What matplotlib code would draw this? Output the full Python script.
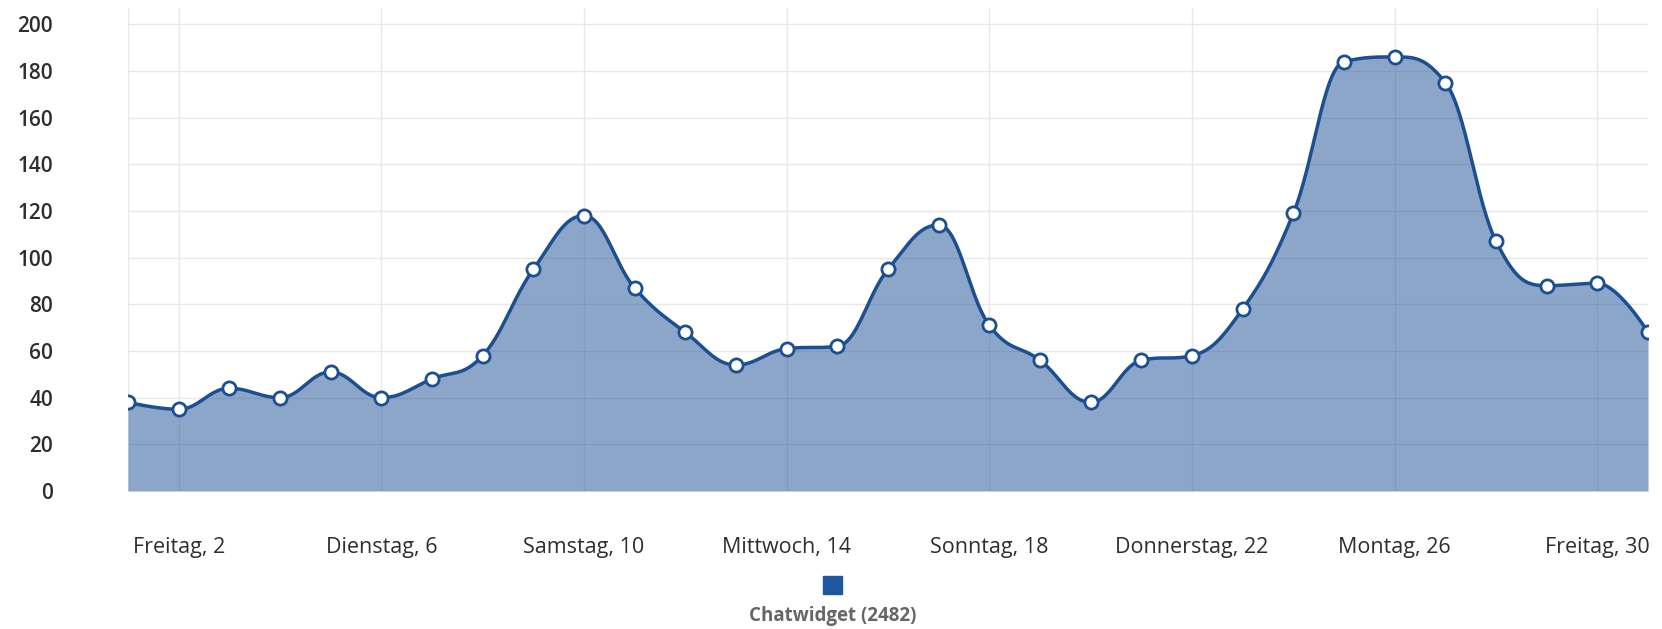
import numpy as np
import matplotlib.pyplot as plt

# Chatwidget pro Tag (Tag 1..31)
days = np.arange(1, 32)
values = [38, 35, 44, 40, 51, 40, 48, 58, 95, 118,
          87, 68, 54, 61, 62, 95, 114, 71, 56, 38,
          56, 58, 78, 119, 184, 186, 175, 107, 88, 89, 68]
tick_days = [2, 6, 10, 14, 18, 22, 26, 30]
tick_labels = ["Freitag, 2", "Dienstag, 6", "Samstag, 10", "Mittwoch, 14",
               "Sonntag, 18", "Donnerstag, 22", "Montag, 26", "Freitag, 30"]
series_name = "Chatwidget (2482)"

line_col = "#1c4f91"
fill_col = "#1a4f96"
text_col = "#2e2e2e"


def spline(xs, ys, n=30, smoothing=1.5):
    # highcharts-artige Bezier-Glaettung
    xs = np.asarray(xs, float)
    ys = np.asarray(ys, float)
    m = len(xs)
    lc = [None] * m
    rc = [None] * m
    for i in range(m):
        x, y = xs[i], ys[i]
        if i == 0 or i == m - 1:
            lc[i] = (x, y)
            rc[i] = (x, y)
            continue
        lx, ly = xs[i - 1], ys[i - 1]
        nx, ny = xs[i + 1], ys[i + 1]
        d = smoothing + 1
        lcx = (smoothing * x + lx) / d
        lcy = (smoothing * y + ly) / d
        rcx = (smoothing * x + nx) / d
        rcy = (smoothing * y + ny) / d
        if rcx != lcx:
            corr = (rcy - lcy) * (rcx - x) / (rcx - lcx) + y - rcy
            lcy += corr
            rcy += corr
        if lcy > ly and lcy > y:
            lcy = max(ly, y)
            rcy = 2 * y - lcy
        elif lcy < ly and lcy < y:
            lcy = min(ly, y)
            rcy = 2 * y - lcy
        if rcy > ny and rcy > y:
            rcy = max(ny, y)
            lcy = 2 * y - rcy
        elif rcy < ny and rcy < y:
            rcy = min(ny, y)
            lcy = 2 * y - rcy
        lc[i] = (lcx, lcy)
        rc[i] = (rcx, rcy)
    px, py = [], []
    t = np.linspace(0, 1, n)
    for i in range(m - 1):
        p0 = np.array([xs[i], ys[i]])
        p1 = np.array(rc[i])
        p2 = np.array(lc[i + 1])
        p3 = np.array([xs[i + 1], ys[i + 1]])
        b = ((1 - t) ** 3)[:, None] * p0 + (3 * (1 - t) ** 2 * t)[:, None] * p1 \
            + (3 * (1 - t) * t ** 2)[:, None] * p2 + (t ** 3)[:, None] * p3
        px.extend(b[:, 0])
        py.extend(b[:, 1])
    return np.array(px), np.array(py)


plt.rcParams['font.family'] = ['Open Sans', 'DejaVu Sans']

fig = plt.figure(figsize=(16.62, 6.29), dpi=100)
ax = fig.add_axes([0.077, 0.2194, 0.9146, 0.768])

sx, sy = spline(days, values)
ax.fill_between(sx, 0, sy, color=fill_col, alpha=0.5, lw=0, zorder=1)
ax.plot(sx, sy, color=line_col, lw=2.5, zorder=3)
ax.plot(days, values, 'o', ms=9.5, mfc='white', mec=line_col, mew=2.0, zorder=4)

ax.set_xlim(1, 31)
ax.set_ylim(0, 207)
ax.set_yticks(np.arange(0, 201, 20))
ax.set_xticks([1] + tick_days)
ax.set_xticklabels([""] + tick_labels)
ax.tick_params(axis='both', length=0, colors=text_col)
ax.tick_params(axis='x', pad=33, labelsize=15.5)
ax.tick_params(axis='y', pad=54, labelsize=15)
for lbl in ax.get_yticklabels():
    lbl.set_horizontalalignment('right')
    lbl.set_fontweight('semibold')

ax.grid(True, color='#e8e8e8', lw=1, zorder=0)
ax.set_axisbelow(True)
for s in ax.spines.values():
    s.set_visible(False)

# Legende
fig.patches.append(plt.Rectangle((0.4954, 0.056), 0.0114, 0.029, transform=fig.transFigure,
                                 color="#1f56a0", figure=fig))
fig.text(0.501, 0.021, series_name, ha='center', va='center', fontsize=13.5,
         fontweight='bold', color='#666666')

fig.savefig("out.png", dpi=100)
